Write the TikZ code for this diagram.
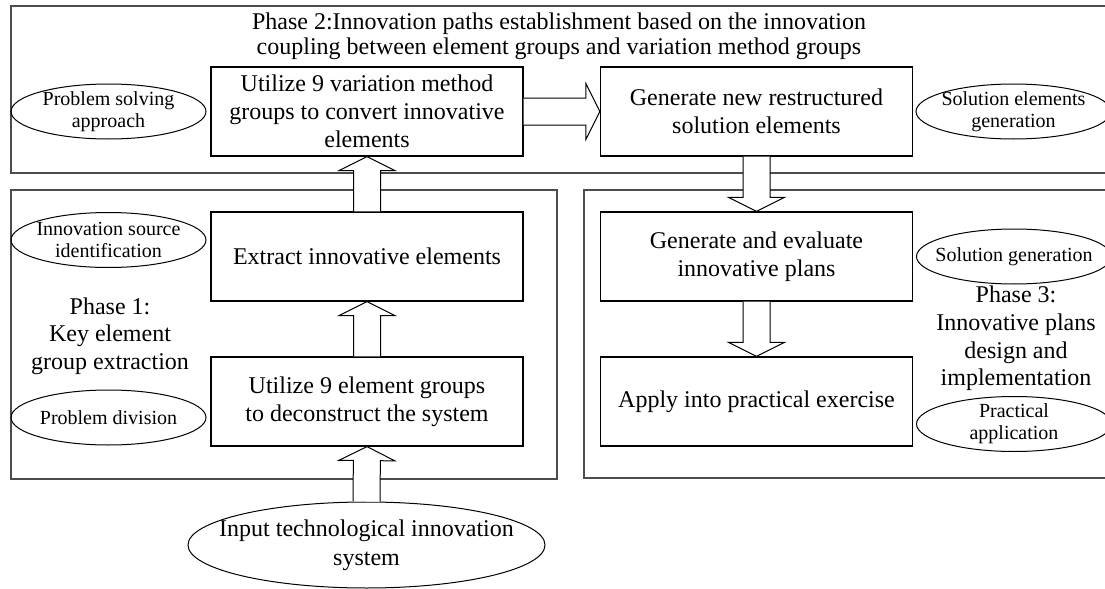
\documentclass[tikz,border=0pt]{standalone}
\usepackage{fontspec}
\setmainfont{Liberation Serif}
\usetikzlibrary{calc,shapes.geometric}

\tikzset{
  stepbox/.style={draw, line width=0.6pt, minimum width=156pt, minimum height=44.5pt,
    inner sep=2pt, align=center, font=\fontsize{12}{14}\selectfont},
  tagoval/.style={draw, ellipse, line width=0.5pt, minimum width=97.5pt, minimum height=27.5pt,
    inner sep=-15pt, align=center, font=\fontsize{10}{11}\selectfont},
  phaseframe/.style={draw=black!70, line width=0.6pt},
  phaselabel/.style={align=center, font=\fontsize{12}{13.8}\selectfont},
  fatline/.style={line width=0.5pt},
}

% hollow block arrow from #1 (tail) to #2 (tip)
\newcommand{\blockarrow}[2]{%
  \coordinate (ahb) at ($(#2)!7pt!(#1)$);
  \coordinate (al1) at ($(#1)!6.75pt!90:(#2)$);
  \coordinate (al2) at ($(ahb)!6.75pt!90:(#2)$);
  \coordinate (al3) at ($(ahb)!14pt!90:(#2)$);
  \coordinate (ar3) at ($(ahb)!14pt!-90:(#2)$);
  \coordinate (ar2) at ($(ahb)!6.75pt!-90:(#2)$);
  \coordinate (ar1) at ($(#1)!6.75pt!-90:(#2)$);
  \fill[white] (al1) -- (al2) -- (al3) -- (#2) -- (ar3) -- (ar2) -- (ar1) -- cycle;
  \draw[fatline] (al1) -- (al2) -- (al3) -- (#2) -- (ar3) -- (ar2) -- (ar1);
}

\begin{document}
\begin{tikzpicture}[x=0.5pt, y=-0.5pt]
    \useasboundingbox (0,0) rectangle (1105,589);
    \clip (0,0) rectangle (1105,589);

    % Phase frames
    \draw[phaseframe] (11,6) rectangle (1112,173);
    \draw[phaseframe] (11,190) rectangle (557,479);
    \draw[phaseframe] (584,190) rectangle (1112,478);

    % Phase 2: innovation paths
    \node[align=center, font=\fontsize{12}{12.5}\selectfont] (title2) at (559,36.5)
      {Phase 2:Innovation paths establishment based on the innovation\\coupling between element groups and variation method groups};
    \node[tagoval] (approach) at (108.5,111.5) {Problem solving\\approach};
    \node[stepbox] (convert) at (367,111.5) {Utilize 9 variation method\\groups to convert innovative\\elements};
    \node[stepbox] (restruct) at (756.5,111.5) {Generate new restructured\\solution elements};
    \node[tagoval] (elemgen) at (1013.5,111.5) {Solution elements\\generation};

    % Phase 1: key element groups
    \node[tagoval] (source) at (108.5,240) {Innovation source\\identification};
    \node[phaselabel] (phase1) at (110,336) {Phase 1:\\Key element\\group extraction};
    \node[tagoval] (division) at (108.5,417.5) {Problem division};
    \node[stepbox] (extract) at (367,256.5) {Extract innovative elements};
    \node[stepbox] (deconstruct) at (367,401.5) {Utilize 9 element groups\\to deconstruct the system};

    % Phase 3: plans
    \node[stepbox] (evaluate) at (756.5,256.5) {Generate and evaluate\\innovative plans};
    \node[stepbox] (apply) at (756.5,401.5) {Apply into practical exercise};
    \node[tagoval] (solgen) at (1014,256.5) {Solution generation};
    \node[phaselabel] (phase3) at (1016,338.5) {Phase 3:\\Innovative plans\\design and\\implementation};
    \node[tagoval] (practice) at (1014,424) {Practical\\application};

    % Input
    \node[tagoval, minimum width=178.5pt, minimum height=43pt, font=\fontsize{12}{14.5}\selectfont]
      (input) at (366.5,545) {Input technological innovation\\system};

    % Block arrows
    \blockarrow{input.north}{deconstruct.south}
    \blockarrow{deconstruct.north}{extract.south}
    \blockarrow{extract.north}{convert.south}
    \blockarrow{convert.east}{restruct.west}
    \blockarrow{restruct.south}{evaluate.north}
    \blockarrow{evaluate.south}{apply.north}
\end{tikzpicture}
\end{document}
